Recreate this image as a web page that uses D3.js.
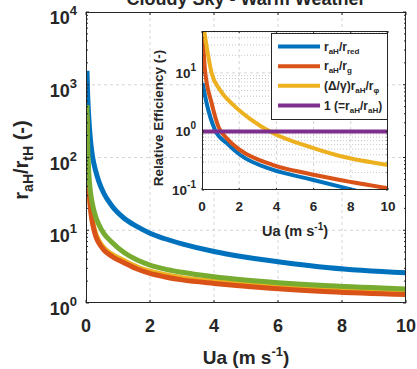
<!DOCTYPE html>
<html><head><meta charset="utf-8">
<script src="https://cdn.jsdelivr.net/npm/d3@7"></script>
<style>
body{margin:0;background:#fff}
text{font-family:"Liberation Sans",Arial,Helvetica,sans-serif;font-weight:bold;fill:#262626}
</style>
</head><body>
<svg id="chart" width="417" height="369"></svg>
<script>
// Main panel: ratio of aerodynamic to total resistance against wind speed
const mainUa    = [0.03,0.05,0.08,0.11,0.15,0.2,0.3,0.4,0.56,0.8,1.2,1.6,2,2.44,3,4,4.8,6,7.6,10];
const mainBlue  = [1550,760,405,250,157,105,66,47,32,21.9,14.5,11.2,9.1,7.7,6.5,5.1,4.4,3.7,3.05,2.6];
const mainYellow= [380,92,48.5,30,19.3,13.6,9.0,7.2,5.72,4.7,3.8,3.13,2.73,2.46,2.23,1.99,1.85,1.68,1.53,1.4];
const mainRed   = [340,84,45,28,18,12.7,8.4,6.7,5.35,4.4,3.55,2.93,2.55,2.3,2.08,1.86,1.73,1.57,1.43,1.31];
const mainGreen = [525,150,70,45,31,23,15.5,12,9.0,6.9,4.9,3.89,3.32,2.94,2.64,2.29,2.1,1.9,1.72,1.56];

// Inset: relative efficiency
const insetBlueUa = [0.035,0.25,0.7,1.33,2.04,3.83,5.63,7.42,8.5,8.8];
const insetBlue   = [6.7,3.03,1.06,0.63,0.40,0.22,0.158,0.114,0.094,0.089];
const insetRedUa  = [0.02,0.16,0.52,0.88,1.33,2.04,3.83,5.63,7.42,10];
const insetRed    = [60,11.2,3.03,1.21,0.765,0.483,0.267,0.193,0.148,0.107];
const insetYellowUa = [0.06,0.52,0.97,1.68,2.58,3.83,5.63,7.42,10];
const insetYellow   = [70,9.9,5.1,2.84,1.64,0.93,0.565,0.38,0.267];
const insetPurpleUa = [0,10];
const insetPurple   = [1,1];

const xTicks = [0,2,4,6,8,10];
const mainYTicks = [1,10,100,1000,10000];
const insetYTicks = [0.1,1,10];
const titleText = "Cloudy Sky - Warm Weather";

const C = {blue:"#0072BD", red:"#D95319", yellow:"#EDB120", purple:"#7E2F8E", green:"#77AC30", axis:"#262626", grid:"#d4d4d4"};

const svg = d3.select("#chart");
const zip = (xs, ys) => xs.map((x,i)=>[x, ys[i]]);
const minorVals = (lo, hi) => { const r=[]; for(let d=lo; d<hi; d*=10) for(let k=2;k<=9;k++) r.push(d*k); return r; };

function exponentLabel(sel, exp, supSize, supDy){
  sel.append("tspan").text("10");
  sel.append("tspan").attr("font-size", supSize).attr("dy", supDy).text(exp);
}

// ---------- main axes ----------
const M = {l:86, r:406, t:12, b:303};
const x = d3.scaleLinear().domain([0,10]).range([M.l, M.r]);
const y = d3.scaleLog().domain([1,10000]).range([M.b, M.t]);

svg.append("defs").append("clipPath").attr("id","mainClip")
  .append("rect").attr("x",M.l).attr("y",M.t).attr("width",M.r-M.l).attr("height",M.b-M.t);

const gGrid = svg.append("g").attr("stroke",C.grid).attr("stroke-width",1).attr("stroke-dasharray","3,3");
xTicks.slice(1,-1).forEach(v=> gGrid.append("line").attr("x1",x(v)).attr("x2",x(v)).attr("y1",M.t).attr("y2",M.b));
mainYTicks.slice(1,-1).forEach(v=> gGrid.append("line").attr("x1",M.l).attr("x2",M.r).attr("y1",y(v)).attr("y2",y(v)));

const mainLine = d3.line().x(d=>x(d[0])).y(d=>y(d[1])).curve(d3.curveMonotoneX);
const gCurves = svg.append("g").attr("clip-path","url(#mainClip)").attr("fill","none")
  .attr("stroke-width",5).attr("stroke-linejoin","round");
[[mainBlue,C.blue],[mainYellow,C.yellow],[mainRed,C.red],[mainGreen,C.green]].forEach(([vals,col])=>{
  gCurves.append("path").attr("d", mainLine(zip(mainUa, vals))).attr("stroke", col);
});

// axes frame and ticks
const gAx = svg.append("g").attr("stroke",C.axis).attr("stroke-width",1).attr("fill","none");
gAx.append("rect").attr("x",M.l+0.5).attr("y",M.t+0.5).attr("width",M.r-M.l-1).attr("height",M.b-M.t-1);
xTicks.forEach(v=>{
  gAx.append("line").attr("x1",x(v)).attr("x2",x(v)).attr("y1",M.b).attr("y2",M.b-3);
  gAx.append("line").attr("x1",x(v)).attr("x2",x(v)).attr("y1",M.t).attr("y2",M.t+3);
});
mainYTicks.forEach(v=>{
  gAx.append("line").attr("x1",M.l).attr("x2",M.l+3).attr("y1",y(v)).attr("y2",y(v));
  gAx.append("line").attr("x1",M.r).attr("x2",M.r-3).attr("y1",y(v)).attr("y2",y(v));
});
minorVals(1,10000).forEach(v=>{
  gAx.append("line").attr("x1",M.l).attr("x2",M.l+2).attr("y1",y(v)).attr("y2",y(v));
  gAx.append("line").attr("x1",M.r).attr("x2",M.r-2).attr("y1",y(v)).attr("y2",y(v));
});

// tick labels
xTicks.forEach(v=> svg.append("text").attr("x",x(v)).attr("y",332).attr("text-anchor","middle")
  .attr("font-size",18).text(v));
mainYTicks.forEach(v=>{
  const t = svg.append("text").attr("x",77).attr("y",y(v)+12).attr("text-anchor","end").attr("font-size",18);
  exponentLabel(t, Math.round(Math.log10(v)), 13, -9);
});

// axis titles
const xl = svg.append("text").attr("x",(M.l+M.r)/2).attr("y",364).attr("text-anchor","middle").attr("font-size",19);
xl.append("tspan").text("Ua (m s");
xl.append("tspan").attr("font-size",13).attr("dy",-8).text("-1");
xl.append("tspan").attr("dy",8).text(")");

const yl = svg.append("text").attr("transform","translate(28,160) rotate(-90)").attr("text-anchor","middle").attr("font-size",20);
yl.append("tspan").text("r");
yl.append("tspan").attr("font-size",14).attr("dy",5).text("aH");
yl.append("tspan").attr("dy",-5).text("/r");
yl.append("tspan").attr("font-size",14).attr("dy",5).text("tH");
yl.append("tspan").attr("dy",-5).text(" (-)");

svg.append("text").attr("x",(M.l+M.r)/2).attr("y",5).attr("text-anchor","middle").attr("font-size",18).text(titleText);

// ---------- inset axes ----------
const I = {l:202, r:388, t:31, b:190};
const xi = d3.scaleLinear().domain([0,10]).range([I.l, I.r]);
const yi = d3.scaleLog().domain([0.1,52]).range([I.b, I.t]);

svg.append("rect").attr("x",I.l).attr("y",I.t).attr("width",I.r-I.l).attr("height",I.b-I.t).attr("fill","#fff");
svg.select("defs").append("clipPath").attr("id","insetClip")
  .append("rect").attr("x",I.l).attr("y",I.t).attr("width",I.r-I.l).attr("height",I.b-I.t);

const gIG = svg.append("g").attr("stroke",C.grid).attr("stroke-width",1);
xTicks.slice(1,-1).forEach(v=> gIG.append("line").attr("x1",xi(v)).attr("x2",xi(v)).attr("y1",I.t).attr("y2",I.b).attr("stroke-dasharray","3,3"));
insetYTicks.slice(1).forEach(v=> gIG.append("line").attr("x1",I.l).attr("x2",I.r).attr("y1",yi(v)).attr("y2",yi(v)).attr("stroke-dasharray","3,3"));
minorVals(0.1,100).filter(v=>v<52).forEach(v=> gIG.append("line").attr("x1",I.l).attr("x2",I.r)
  .attr("y1",yi(v)).attr("y2",yi(v)).attr("stroke-dasharray","1,2").attr("stroke","#c8c8c8"));

const insetLine = d3.line().x(d=>xi(d[0])).y(d=>yi(d[1])).curve(d3.curveMonotoneX);
const gIC = svg.append("g").attr("clip-path","url(#insetClip)").attr("fill","none").attr("stroke-width",4).attr("stroke-linejoin","round");
[[insetBlueUa,insetBlue,C.blue],[insetRedUa,insetRed,C.red],[insetYellowUa,insetYellow,C.yellow],[insetPurpleUa,insetPurple,C.purple]]
  .forEach(([xs,vs,col])=> gIC.append("path").attr("d",insetLine(zip(xs,vs))).attr("stroke",col));

const gIA = svg.append("g").attr("stroke",C.axis).attr("stroke-width",1).attr("fill","none");
gIA.append("rect").attr("x",I.l+0.5).attr("y",I.t+0.5).attr("width",I.r-I.l-1).attr("height",I.b-I.t-1);
xTicks.forEach(v=>{
  gIA.append("line").attr("x1",xi(v)).attr("x2",xi(v)).attr("y1",I.b).attr("y2",I.b-2);
  gIA.append("line").attr("x1",xi(v)).attr("x2",xi(v)).attr("y1",I.t).attr("y2",I.t+2);
});
insetYTicks.forEach(v=>{
  gIA.append("line").attr("x1",I.l).attr("x2",I.l+2).attr("y1",yi(v)).attr("y2",yi(v));
  gIA.append("line").attr("x1",I.r).attr("x2",I.r-2).attr("y1",yi(v)).attr("y2",yi(v));
});
minorVals(0.1,100).filter(v=>v<52).forEach(v=>{
  gIA.append("line").attr("x1",I.l).attr("x2",I.l+1.5).attr("y1",yi(v)).attr("y2",yi(v));
  gIA.append("line").attr("x1",I.r).attr("x2",I.r-1.5).attr("y1",yi(v)).attr("y2",yi(v));
});

xTicks.forEach(v=> svg.append("text").attr("x",xi(v)).attr("y",211).attr("text-anchor","middle").attr("font-size",13.5).text(v));
insetYTicks.forEach(v=>{
  const t = svg.append("text").attr("x",196).attr("y",yi(v)+5).attr("text-anchor","end").attr("font-size",13.5);
  exponentLabel(t, Math.round(Math.log10(v)), 10, -7);
});

const xil = svg.append("text").attr("x",(I.l+I.r)/2).attr("y",236).attr("text-anchor","middle").attr("font-size",14.5);
xil.append("tspan").text("Ua (m s");
xil.append("tspan").attr("font-size",10).attr("dy",-6).text("-1");
xil.append("tspan").attr("dy",6).text(")");

svg.append("text").attr("transform","translate(163,118) rotate(-90)").attr("text-anchor","middle").attr("font-size",13.5)
  .text("Relative Efficiency (-)");

// legend
const legendItems = [
  {col:C.blue,   parts:[["r"],["aH","sub"],["/r"],["red","sub"]]},
  {col:C.red,    parts:[["r"],["aH","sub"],["/r"],["g","sub"]]},
  {col:C.yellow, parts:[["(Δ/γ)r"],["aH","sub"],["/r"],["φ","sub"]]},
  {col:C.purple, parts:[["1 (=r"],["aH","sub"],["/r"],["aH","sub"],[")"]]}
];
const L = {x:271, y:33, w:116, h:86};
svg.append("rect").attr("x",L.x+0.5).attr("y",L.y+0.5).attr("width",L.w).attr("height",L.h)
  .attr("fill","#fff").attr("stroke",C.axis).attr("stroke-width",1);
const legendY = d3.scalePoint().domain(d3.range(legendItems.length)).range([46.5,105.5]);
legendItems.forEach((it,i)=>{
  const ly = legendY(i);
  svg.append("line").attr("x1",278).attr("x2",320).attr("y1",ly).attr("y2",ly).attr("stroke",it.col).attr("stroke-width",4);
  const t = svg.append("text").attr("x",324).attr("y",ly+4).attr("font-size",12);
  let shifted = false;
  it.parts.forEach(([s,kind])=>{
    const sp = t.append("tspan").text(s);
    if(kind==="sub"){ sp.attr("font-size",8).attr("dy", shifted?0:3); shifted=true; }
    else { if(shifted){ sp.attr("dy",-3); shifted=false; } }
  });
});
</script>
</body></html>
